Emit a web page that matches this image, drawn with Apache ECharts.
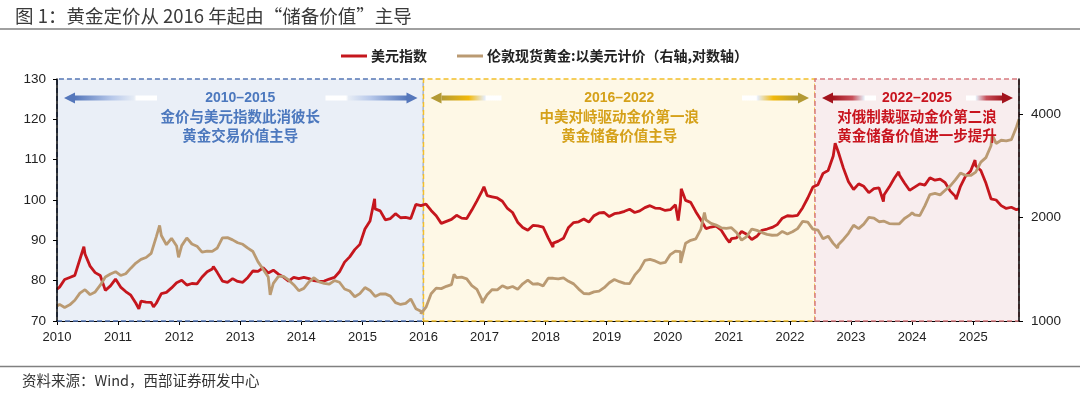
<!DOCTYPE html>
<html><head><meta charset="utf-8">
<script src="https://cdn.jsdelivr.net/npm/echarts@6/dist/echarts.min.js"></script>
<style>html,body{margin:0;padding:0;background:#fff}#c{width:1080px;height:395px}</style>
</head><body><div id="c"></div>
<script>
// ---------- text ----------
const titleText = '图 1：黄金定价从 2016 年起由“储备价值”主导';
const sourceText = '资料来源：Wind，西部证券研发中心';
const seriesNames = ['美元指数', '伦敦现货黄金:以美元计价（右轴,对数轴）'];

// ---------- axes ----------
const xStart = 2010;
const xEnd = 2025.75;
const yearTicks = [2010,2011,2012,2013,2014,2015,2016,2017,2018,2019,2020,2021,2022,2023,2024,2025];
const leftMin = 70, leftMax = 130, leftStep = 10;
const rightMin = 1000, rightMax = 5050;
const rightTicks = [1000, 2000, 4000];

// ---------- data: monthly values, Jan 2010 .. Sep 2025 ----------
const dxyMonthly = [
 78.4,80.3,80.8,81.3,85.3,86.6,83.6,82.0,81.3,77.6,78.7,80.4,
 78.4,77.3,76.4,74.4,74.9,74.7,74.6,74.4,76.8,77.1,78.2,79.5,
 80.1,78.9,79.3,79.2,80.9,82.2,82.9,82.0,79.9,79.6,80.5,79.8,
 79.6,80.8,82.4,82.3,83.2,81.9,82.6,81.6,80.9,79.9,80.8,80.5,
 80.8,80.5,80.0,79.8,79.9,80.4,80.8,82.2,84.6,85.9,87.7,89.0,
 92.8,94.8,97.8,97.3,95.1,95.4,96.6,95.6,95.7,95.4,98.9,98.6,
 99.0,97.4,96.1,94.2,94.7,95.2,96.2,95.5,95.4,97.5,99.8,102.2,
 101.1,100.8,100.5,99.7,97.9,96.9,94.5,93.2,92.5,93.7,93.6,93.3,
 90.6,89.3,89.8,90.5,93.2,94.4,94.6,95.3,94.5,96.1,96.8,96.9,
 95.9,96.6,96.8,97.2,97.7,96.9,97.3,98.1,98.6,98.0,97.9,97.4,
 97.6,98.8,99.5,99.9,99.4,97.1,95.1,92.9,93.3,93.5,92.5,90.5,
 90.4,90.6,92.2,91.5,90.2,91.0,92.5,92.8,93.2,93.9,95.5,96.1,
 96.0,96.2,98.1,100.5,103.2,103.8,106.6,107.3,110.9,111.9,107.9,104.5,
 102.6,104.0,103.4,101.8,102.8,103.0,101.3,103.2,105.4,106.2,104.2,102.4,
 103.2,104.0,103.7,105.5,104.9,105.2,104.3,102.2,100.9,103.4,105.9,107.2,
 108.5,107.3,104.2,100.3,100.0,98.6,97.9,98.2,97.6
];
const goldMonthly = [
 1118,1095,1114,1149,1205,1233,1193,1215,1271,1343,1370,1391,
 1356,1372,1424,1474,1511,1529,1573,1756,1772,1666,1739,1652,
 1656,1743,1674,1650,1585,1596,1594,1630,1745,1747,1721,1688,
 1671,1628,1592,1485,1414,1343,1286,1348,1348,1316,1275,1225,
 1244,1300,1336,1299,1287,1279,1311,1296,1239,1222,1176,1201,
 1251,1227,1179,1198,1199,1181,1131,1117,1125,1159,1086,1068,
 1097,1200,1246,1242,1261,1276,1337,1341,1326,1267,1236,1152,
 1192,1234,1231,1266,1246,1260,1236,1283,1315,1280,1283,1265,
 1331,1331,1325,1335,1304,1282,1238,1202,1199,1215,1221,1250,
 1292,1320,1301,1286,1284,1359,1413,1500,1511,1495,1471,1480,
 1560,1597,1591,1683,1716,1732,1847,1968,1922,1900,1866,1858,
 1867,1808,1718,1760,1850,1834,1807,1785,1775,1777,1821,1790,
 1817,1856,1948,1937,1849,1837,1733,1764,1681,1665,1726,1798,
 1898,1855,1912,2000,1992,1943,1950,1919,1916,1916,1985,2030,
 2034,2024,2160,2331,2350,2326,2399,2470,2571,2690,2651,2648,
 2709,2895,2984,3230,3281,3352,3340,3365,3665
];
// extra readings at turning points [year position, value]
const dxyExtra = [[2010.0,77.9],[2010.44,88.4],[2011.34,73.0],[2011.58,73.5],[2012.56,83.5],
 [2015.20,100.3],[2016.99,103.3],[2018.12,88.3],[2020.17,94.9],[2020.22,102.8],[2021.01,89.5],
 [2022.74,114.1],[2023.53,99.6],[2023.78,107.0],[2024.72,100.2],[2025.03,109.9],[2025.75,97.8]];
const goldExtra = [[2010.0,1105],[2011.68,1895],[2011.99,1531],[2013.49,1192],[2015.96,1050],
 [2016.5,1366],[2016.96,1128],[2020.21,1474],[2020.6,2067],[2022.78,1630],[2024.0,2063],
 [2025.31,3480],[2025.75,3860]];

// ---------- periods ----------
const periods = [
 {from:2010, to:2016, year:'2010–2015', l1:'金价与美元指数此消彼长', l2:'黄金交易价值主导',
  fill:'#EAEFF7', border:'#5577B5', text:'#4C78BE', head:'#5577BB', mid:'#B7C8EA', len:[92,92]},
 {from:2016, to:2022.41, year:'2016–2022', l1:'中美对峙驱动金价第一浪', l2:'黄金储备价值主导',
  fill:'#FEF8E6', border:'#F2BE2A', text:'#D5A11A', head:'#B39A35', mid:'#F2B90A', len:[70,67]},
 {from:2022.41, to:2025.75, year:'2022–2025', l1:'对俄制裁驱动金价第二浪', l2:'黄金储备价值进一步提升',
  fill:'#F8EDEE', border:'#D77B80', text:'#C8141E', head:'#A3141D', mid:'#C8505A', len:[53,47]}
];

function buildSeries(monthly, extra) {
  const pts = monthly.map((v, i) => [xStart + (i + 0.5) / 12, v]);
  return pts.concat(extra).sort((a, b) => a[0] - b[0]);
}

const labelFont = "'Liberation Sans', Arial, sans-serif";
const cjkFont = "'Noto Sans CJK SC', sans-serif";

const chart = echarts.init(document.getElementById('c'), null, {renderer: 'canvas'});
const option = {
  animation: false,
  title: {text: titleText, left: 10, top: 2,
    textStyle: {fontSize: 18.5, fontWeight: 'normal', color: '#3a3a3a', fontFamily: cjkFont}},
  legend: {
    left: 336, top: 44, itemGap: 30, itemWidth: 26, itemHeight: 3, icon: 'rect',
    textStyle: {fontSize: 14, fontWeight: 'bold', color: '#222', fontFamily: cjkFont, padding: [0,0,0,-1]},
    data: seriesNames
  },
  grid: {left: 57, right: 61, top: 79, bottom: 74, containLabel: false},
  xAxis: {
    type: 'value', min: xStart, max: xEnd,
    axisLine: {show: true, lineStyle: {color: '#000', width: 1}},
    axisTick: {show: true, length: 4, lineStyle: {color: '#000'}, customValues: yearTicks},
    axisLabel: {customValues: yearTicks, margin: 10, fontSize: 13, color: '#222', fontFamily: labelFont,
      formatter: v => String(Math.round(v))},
    splitLine: {show: false}
  },
  yAxis: [
    {type: 'value', min: leftMin, max: leftMax, interval: leftStep, z: 5,
     axisLine: {show: true, lineStyle: {color: '#000', width: 1.5}},
     axisTick: {show: true, length: 4, lineStyle: {color: '#000'}},
     axisLabel: {margin: 11, fontSize: 13.5, color: '#222', fontFamily: labelFont},
     splitLine: {show: false}},
    {type: 'log', logBase: 2, min: rightMin, max: rightMax, position: 'right', z: 5,
     axisLine: {show: true, lineStyle: {color: '#000', width: 1.5}},
     axisTick: {show: true, length: 4, lineStyle: {color: '#000'}, customValues: rightTicks},
     axisLabel: {customValues: rightTicks, margin: 12, fontSize: 13.5, color: '#222', fontFamily: labelFont,
       formatter: v => String(Math.round(v))},
     splitLine: {show: false}}
  ],
  series: [
    {name: seriesNames[0], type: 'line', yAxisIndex: 0, showSymbol: false, symbol: 'none',
     data: buildSeries(dxyMonthly, dxyExtra),
     lineStyle: {color: '#C5161D', width: 2.8}, itemStyle: {color: '#C5161D'},
     markArea: {silent: true, data: periods.map(p => [
       {xAxis: p.from, itemStyle: {color: p.fill, borderColor: p.border, borderWidth: 1.5, borderType: [5, 3]}},
       {xAxis: p.to}])}},
    {name: seriesNames[1], type: 'line', yAxisIndex: 1, showSymbol: false, symbol: 'none',
     data: buildSeries(goldMonthly, goldExtra),
     lineStyle: {color: '#BA9A72', width: 2.8}, itemStyle: {color: '#BA9A72'}}
  ]
};
chart.setOption(option);

// ---------- annotations placed from axis coordinates ----------
const topY = chart.convertToPixel({yAxisIndex: 0}, leftMax);
const gfx = [];
function arrow(tipX, dir, len, y, head, mid) {
  // dir = -1 points left, +1 points right
  const headLen = 11, headHalf = 5.5, shaftH = 5;
  const baseX = tipX - dir * headLen;
  const tailX = tipX - dir * len;
  const x0 = Math.min(baseX, tailX), w = Math.abs(baseX - tailX);
  const stops = dir < 0
    ? [{offset: 0, color: head}, {offset: 0.45, color: mid}, {offset: 0.72, color: '#E6ECF5'}, {offset: 0.75, color: '#fff'}, {offset: 1, color: '#fff'}]
    : [{offset: 0, color: '#fff'}, {offset: 0.25, color: '#fff'}, {offset: 0.28, color: '#E6ECF5'}, {offset: 0.55, color: mid}, {offset: 1, color: head}];
  gfx.push({type: 'rect', z: 50, shape: {x: x0, y: y - shaftH / 2, width: w + 1, height: shaftH},
    style: {fill: new echarts.graphic.LinearGradient(0, 0, 1, 0, stops)}});
  gfx.push({type: 'polygon', z: 51, shape: {points: [[tipX, y], [baseX, y - headHalf], [baseX, y + headHalf]]},
    style: {fill: head}});
}
periods.forEach(p => {
  const x0 = chart.convertToPixel({xAxisIndex: 0}, p.from);
  const x1 = chart.convertToPixel({xAxisIndex: 0}, p.to);
  const cx = (x0 + x1) / 2;
  const ay = topY + 19;
  gfx.push({type: 'text', z: 60, style: {text: p.year, x: cx, y: ay, align: 'center', verticalAlign: 'middle',
    font: "bold 14px 'Liberation Sans', Arial, sans-serif", fill: p.text}});
  gfx.push({type: 'text', z: 60, style: {text: p.l1, x: cx, y: ay + 18.5, align: 'center', verticalAlign: 'middle',
    font: "bold 14.5px 'Noto Sans CJK SC', sans-serif", fill: p.text}});
  gfx.push({type: 'text', z: 60, style: {text: p.l2, x: cx, y: ay + 37.5, align: 'center', verticalAlign: 'middle',
    font: "bold 14.5px 'Noto Sans CJK SC', sans-serif", fill: p.text}});
  arrow(x0 + 7, -1, p.len[0], ay, p.head, p.mid);
  arrow(x1 - 6, 1, p.len[1], ay, p.head, p.mid);
});
// title rule and source
gfx.push({type: 'line', z: 10, shape: {x1: 0, y1: 29, x2: 1080, y2: 29}, style: {stroke: '#808080', lineWidth: 1.5}});
gfx.push({type: 'line', z: 10, shape: {x1: 0, y1: 366.5, x2: 1080, y2: 366.5}, style: {stroke: '#808080', lineWidth: 1.5}});
gfx.push({type: 'text', z: 10, style: {text: sourceText, x: 22, y: 380, verticalAlign: 'middle',
  font: "14.5px 'Noto Sans CJK SC', sans-serif", fill: '#333'}});
chart.setOption({graphic: gfx});
</script></body></html>
